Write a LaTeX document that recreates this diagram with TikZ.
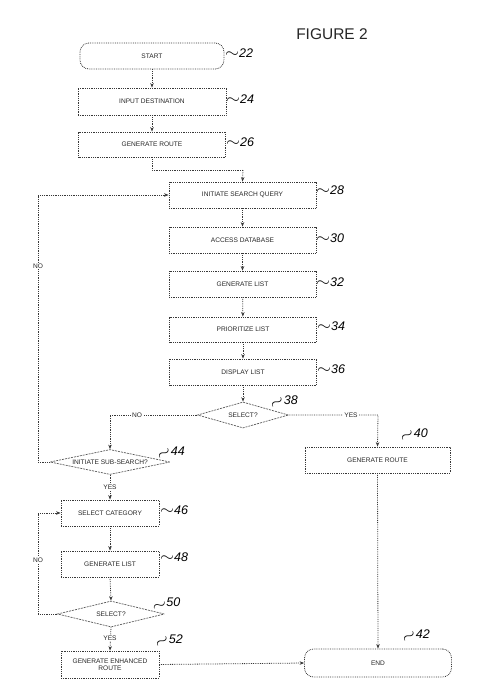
\documentclass[tikz,border=0pt]{standalone}
\usepackage{fontspec}
\usepackage{graphicx}
\setmainfont{Liberation Sans}
\usetikzlibrary{shapes.geometric,arrows.meta}
\newcommand{\tld}{\scalebox{1.5}[1.3]{$\sim$}}
\newcommand{\stld}[1]{\raisebox{-5pt}{\rotatebox{#1}{\scalebox{1.5}[1.3]{$\sim$}}}\kern-1pt}
\begin{document}
\begin{tikzpicture}[x=1pt,y=-1pt,
  ln/.style={draw=black!78, line width=0.8pt, densely dotted},
  conn/.style={ln, -{Stealth[length=4.5pt,width=3.5pt]}},
  plain/.style={ln},
  box/.style={ln, rectangle, inner sep=1pt, align=center,
     font=\fontsize{6.6}{7.4}\selectfont, text=black!85},
  term/.style={box, rounded corners=9pt},
  dia/.style={draw=black!65, line width=0.7pt, dash pattern=on 2pt off 1pt,
     diamond, inner sep=0pt},
  dtxt/.style={font=\fontsize{6.6}{7.4}\selectfont, text=black!85, inner sep=0pt},
  lbl/.style={font=\fontsize{6.6}{7.4}\selectfont, text=black!85, fill=white, inner sep=1pt},
  ref/.style={font=\fontsize{12.5}{13}\selectfont\itshape, text=black, inner sep=0pt, anchor=west},
  sref/.style={font=\fontsize{12.5}{13}\selectfont\itshape, text=black, inner sep=0pt, anchor=base west}
]
\useasboundingbox (0,0) rectangle (489,698);

\node[font=\fontsize{15.5}{16}\selectfont, text=black!85, inner sep=0pt] (title) at (332,34) {FIGURE 2};

% top column
\node[term, minimum width=144pt, minimum height=26pt] (start) at (152,56) {START};
\node[box, minimum width=148pt, minimum height=27pt] (input) at (152,101.5) {INPUT DESTINATION};
\node[box, minimum width=147pt, minimum height=25pt] (gen) at (152,144.5) {GENERATE ROUTE};

% main column
\node[box, minimum width=147pt, minimum height=26pt] (isq) at (242.5,195) {INITIATE SEARCH QUERY};
\node[box, minimum width=147pt, minimum height=26pt] (adb) at (242.5,240) {ACCESS DATABASE};
\node[box, minimum width=147pt, minimum height=26pt] (glist) at (242.5,284) {GENERATE LIST};
\node[box, minimum width=147pt, minimum height=25pt] (plist) at (243,329.5) {PRIORITIZE LIST};
\node[box, minimum width=147pt, minimum height=26pt] (dlist) at (243,372) {DISPLAY LIST};
\node[dia, minimum width=91pt, minimum height=26pt] (sel) at (243,415) {};
\node[dtxt] (seltxt) at (sel) {SELECT?};

% right column
\node[box, minimum width=145pt, minimum height=26pt] (groute) at (377.5,460) {GENERATE ROUTE};
\node[term, minimum width=147pt, minimum height=28pt] (end) at (378,663) {END};

% left column
\node[dia, minimum width=120pt, minimum height=25pt] (iss) at (110,462) {};
\node[dtxt] (isstxt) at (iss) {INITIATE SUB-SEARCH?};
\node[box, minimum width=98pt, minimum height=26pt] (scat) at (110,513) {SELECT CATEGORY};
\node[box, minimum width=98pt, minimum height=26pt] (glist2) at (110,564) {GENERATE LIST};
\node[dia, minimum width=107pt, minimum height=26pt] (sel2) at (111,614) {};
\node[dtxt] (sel2txt) at (sel2) {SELECT?};
\node[box, minimum width=98pt, minimum height=27pt] (ger) at (110,664.5) {GENERATE ENHANCED\\ROUTE};

% helper coordinates
\coordinate (c1) at (152,170);
\coordinate (c2) at (243,170);
\coordinate (nl) at (110,415);
\coordinate (yr) at (378,415);
\coordinate (lt) at (38,195);
\coordinate (lb) at (38,462);
\coordinate (l2t) at (38,513);
\coordinate (l2b) at (38,614);

% connectors
\draw[conn] (start) -- (input);
\draw[conn] (input) -- (gen);
\draw[plain] (gen.south) -- (c1) -- (c2);
\draw[conn] (c2) -- (isq.north);
\draw[conn] (isq) -- (adb);
\draw[conn] (adb) -- (glist);
\draw[conn] (glist) -- (plist);
\draw[conn] (plist) -- (dlist);
\draw[conn] (dlist.south) -- (sel.north);
\draw[conn] (sel.west) -- (nl) -- (iss.north);
\draw[conn] (sel.east) -- (yr) -- (groute.north);
\draw[conn] (groute.south) -- (end.north);
\draw[conn] (iss.west) -- (lb) -- (lt) -- (isq.west);
\draw[conn] (iss.south) -- (scat.north);
\draw[conn] (scat) -- (glist2);
\draw[conn] (glist2.south) -- (sel2.north);
\draw[conn] (sel2.west) -- (l2b) -- (l2t) -- (scat.west);
\draw[conn] (sel2.south) -- (ger.north);
\draw[conn] (ger.east) -- (end.west);

% connector labels
\node[lbl] (no1) at (137,415) {NO};
\node[lbl] (yes1) at (351,415) {YES};
\node[lbl] (no2) at (38,266) {NO};
\node[lbl] (yes2) at (110,487) {YES};
\node[lbl] (no3) at (38,560) {NO};
\node[lbl] (yes3) at (110,638) {YES};

% reference numerals
\node[ref] (r22) at (225,53) {\tld22};
\node[ref] (r24) at (226,99) {\tld24};
\node[ref] (r26) at (226,142) {\tld26};
\node[ref] (r28) at (316,190) {\tld28};
\node[ref] (r30) at (316,238) {\tld30};
\node[ref] (r32) at (316,282) {\tld32};
\node[ref] (r34) at (317,326) {\tld34};
\node[ref] (r36) at (317,369) {\tld36};
\node[ref] (r46) at (160,510) {\tld46};
\node[ref] (r48) at (160,557) {\tld48};
\node[sref] (r38) at (270,404) {\stld{35}38};
\node[sref] (r40) at (400,437) {\stld{35}40};
\node[sref] (r44) at (157,455) {\stld{35}44};
\node[sref] (r50) at (152,606) {\stld{20}50};
\node[sref] (r52) at (155,643) {\stld{35}52};
\node[sref] (r42) at (402,638) {\stld{35}42};
\end{tikzpicture}
\end{document}
